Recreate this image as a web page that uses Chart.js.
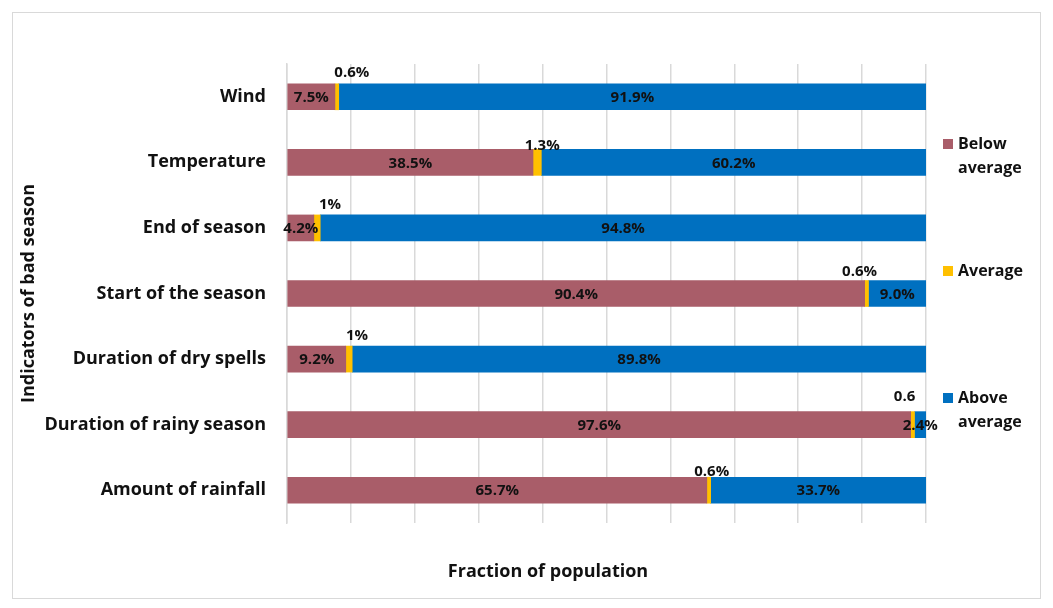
<!DOCTYPE html>
<html>
<head>
<meta charset="utf-8">
<script src="https://cdn.jsdelivr.net/npm/chart.js@4/dist/chart.umd.min.js"></script>
<style>
  html, body { margin: 0; padding: 0; background: #fff; }
  #wrap { position: relative; width: 1053px; height: 608px; }
  #wrap canvas { position: absolute; left: 0; top: 0; }
  #frame { position: absolute; left: 12px; top: 12px; width: 1027px; height: 585px;
           border: 1px solid #d9d9d9; pointer-events: none; }
</style>
</head>
<body>
<div id="wrap">
  <canvas id="chart" width="1053" height="608"></canvas>
  <div id="frame"></div>
</div>
<script>
// Indicators of a bad season and the share of the population rating each one
const categories = [
  'Wind',
  'Temperature',
  'End of season',
  'Start of the season',
  'Duration of dry spells',
  'Duration of rainy season',
  'Amount of rainfall'
];
const belowAverage = [7.5, 38.5, 4.2, 90.4, 9.2, 97.6, 65.7];
const average      = [0.6, 1.3, 1, 0.6, 1, 0.6, 0.6];
const aboveAverage = [91.9, 60.2, 94.8, 9.0, 89.8, 2.4, 33.7];
const seriesNames  = ['Below average', 'Average', 'Above average'];
const seriesColors = ['#a95d69', '#ffc000', '#0070c0'];
const xAxisTitle = 'Fraction of population';
const yAxisTitle = 'Indicators of bad season';

const FONT = '"Open Sans", Lato, sans-serif';
const INK = '#111111';

// The rainy-season "Average" label is printed without a percent sign
const averageLabels = average.map((v, i) =>
  categories[i] === 'Duration of rainy season' ? String(v) : v + '%');

// Value labels: centred inside the coloured segments, small ones set above the bar
const valueLabels = {
  id: 'valueLabels',
  afterDatasetsDraw(chart, args, opts) {
    const ctx = chart.ctx;
    const area = chart.chartArea;
    ctx.save();
    ctx.font = 'bold 15px ' + FONT;
    ctx.fillStyle = INK;
    ctx.textAlign = 'center';
    ctx.textBaseline = 'middle';
    [0, 2].forEach(di => {
      const meta = chart.getDatasetMeta(di);
      const vals = chart.data.datasets[di].data;
      meta.data.forEach((bar, i) => {
        const a = Math.max(area.left, Math.min(bar.base, bar.x));
        const b = Math.min(area.right, Math.max(bar.base, bar.x));
        ctx.fillText(vals[i].toFixed(1) + '%', (a + b) / 2, bar.y + 1);
      });
    });
    const meta = chart.getDatasetMeta(1);
    meta.data.forEach((bar, i) => {
      const n = opts.nudge[i];
      const cx = (bar.base + bar.x) / 2 + n.dx;
      const top = bar.y - bar.height / 2;
      ctx.fillText(averageLabels[i], cx, top - n.dy);
    });
    ctx.restore();
  }
};

// Legend on the right, one word per line, spread down the plot height
const sideLegend = {
  id: 'sideLegend',
  afterDraw(chart, args, opts) {
    const ctx = chart.ctx;
    ctx.save();
    ctx.font = 'bold 16px ' + FONT;
    ctx.textAlign = 'left';
    ctx.textBaseline = 'middle';
    chart.data.datasets.forEach((ds, i) => {
      const y0 = opts.top + i * opts.step;
      ctx.fillStyle = ds.backgroundColor;
      ctx.fillRect(opts.left, y0 - 5, 10, 10);
      ctx.fillStyle = INK;
      ds.label.split(' ').forEach((word, k) => {
        ctx.fillText(word, opts.left + 15, y0 + k * opts.lineHeight);
      });
    });
    ctx.restore();
  }
};

// Horizontal axis caption under the plot
const xCaption = {
  id: 'xCaption',
  afterDraw(chart, args, opts) {
    const ctx = chart.ctx;
    ctx.save();
    ctx.font = 'bold 18px ' + FONT;
    ctx.fillStyle = INK;
    ctx.textAlign = 'center';
    ctx.textBaseline = 'middle';
    ctx.fillText(xAxisTitle, opts.x, opts.y);
    ctx.restore();
  }
};

new Chart(document.getElementById('chart'), {
  type: 'bar',
  data: {
    labels: categories,
    datasets: [belowAverage, average, aboveAverage].map((d, i) => ({
      label: seriesNames[i],
      data: d,
      backgroundColor: seriesColors[i],
      borderWidth: 0,
      barThickness: 26
    }))
  },
  options: {
    indexAxis: 'y',
    responsive: false,
    animation: false,
    devicePixelRatio: 1,
    layout: { padding: { left: 15, right: 127, top: 64, bottom: 0 } },
    scales: {
      x: {
        stacked: true,
        min: 0,
        max: 100,
        ticks: { display: false, stepSize: 10 },
        grid: { color: '#d9d9d9', lineWidth: 1.5, drawTicks: false },
        border: { display: false },
        afterFit(scale) { scale.height = 85; }
      },
      y: {
        stacked: true,
        grid: { display: false, drawTicks: false },
        border: { display: true, color: '#d9d9d9', width: 1.5 },
        ticks: { color: INK, padding: 21, font: { family: FONT, size: 18, weight: 'bold' } },
        title: {
          display: true,
          text: yAxisTitle,
          color: INK,
          padding: { top: 3, bottom: 0 },
          font: { family: FONT, size: 18, weight: 'bold' }
        },
        afterFit(scale) { scale.width = 272; }
      }
    },
    plugins: {
      legend: { display: false },
      tooltip: { enabled: false },
      valueLabels: {
        nudge: [
          { dx: 15, dy: 11 }, { dx: 5, dy: 4 }, { dx: 13, dy: 10 }, { dx: -7, dy: 9 },
          { dx: 8, dy: 10 }, { dx: -8, dy: 15 }, { dx: 3, dy: 5 }
        ]
      },
      sideLegend: { left: 943, top: 144, step: 127, lineHeight: 24 },
      xCaption: { x: 548, y: 572 }
    }
  },
  plugins: [valueLabels, sideLegend, xCaption]
});
</script>
</body>
</html>
